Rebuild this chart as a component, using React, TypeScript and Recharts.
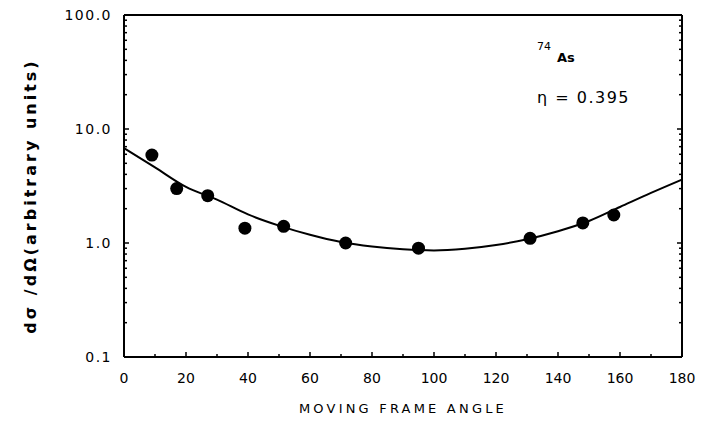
import {
  ComposedChart,
  Line,
  Scatter,
  XAxis,
  YAxis,
  Customized,
} from "recharts";

// measured cross sections vs. moving frame angle
const ANGLES = [9, 17, 27, 39, 51.5, 71.5, 95, 131, 148, 158];
const CROSS_SECTION = [5.9, 3.0, 2.6, 1.35, 1.4, 1.0, 0.9, 1.1, 1.5, 1.76];

// fitted curve
const FIT_ANGLES = [0, 10, 20, 30, 40, 50, 60, 70, 80, 90, 100, 110, 120, 130, 140, 150, 160, 170, 180];
const FIT_VALUES = [6.8, 4.6, 3.1, 2.4, 1.78, 1.42, 1.18, 1.02, 0.93, 0.88, 0.86, 0.89, 0.96, 1.08, 1.27, 1.56, 2.07, 2.75, 3.6];

const X_TICKS = [0, 10, 20, 30, 40, 50, 60, 70, 80, 90, 100, 110, 120, 130, 140, 150, 160, 170, 180];
const X_LABELS = [0, 20, 40, 60, 80, 100, 120, 140, 160, 180];
const Y_TICKS = [
  0.1, 0.2, 0.3, 0.4, 0.5, 0.6, 0.7, 0.8, 0.9,
  1, 2, 3, 4, 5, 6, 7, 8, 9,
  10, 20, 30, 40, 50, 60, 70, 80, 90,
  100,
];
const Y_LABELS = [0.1, 1, 10, 100];

const FONT = "'DejaVu Sans', sans-serif";
const INK = "#000";

const points = ANGLES.map((angle, i) => ({ angle, value: CROSS_SECTION[i] }));
const fit = FIT_ANGLES.map((angle, i) => ({ angle, value: FIT_VALUES[i] }));

const BottomTick = ({ x, y, payload }: any) => {
  const major = X_LABELS.includes(payload.value);
  return (
    <g>
      <line x1={x} y1={y} x2={x} y2={y - (major ? 5 : 3)} stroke={INK} strokeWidth={1.5} />
      {major && (
        <text x={x} y={y + 26} textAnchor="middle" fontSize={14} fontFamily={FONT} fill={INK}>
          {payload.value}
        </text>
      )}
    </g>
  );
};

const TopTick = ({ x, y, payload }: any) => {
  const major = X_LABELS.includes(payload.value);
  return <line x1={x} y1={y} x2={x} y2={y + (major ? 5 : 3)} stroke={INK} strokeWidth={1.5} />;
};

const LeftTick = ({ x, y, payload }: any) => {
  const major = Y_LABELS.includes(payload.value);
  return (
    <g>
      <line x1={x} y1={y} x2={x + (major ? 5 : 3)} y2={y} stroke={INK} strokeWidth={1.5} />
      {major && (
        <text
          x={x - 12}
          y={y + 5}
          textAnchor="end"
          fontSize={14}
          letterSpacing={1.5}
          fontFamily={FONT}
          fill={INK}
        >
          {payload.value.toFixed(1)}
        </text>
      )}
    </g>
  );
};

const RightTick = ({ x, y, payload }: any) => {
  const major = Y_LABELS.includes(payload.value);
  return <line x1={x} y1={y} x2={x - (major ? 5 : 3)} y2={y} stroke={INK} strokeWidth={1.5} />;
};

const yTitle = () => (
  <text
    x={30}
    y={196}
    transform="rotate(-90 30 196)"
    textAnchor="middle"
    dominantBaseline="central"
    fontSize={16}
    fontWeight="bold"
    letterSpacing={3}
    fontFamily={FONT}
    fill={INK}
  >
    dσ /dΩ(arbitrary units)
  </text>
);

const xTitle = () => (
  <text
    x={403}
    y={413}
    textAnchor="middle"
    fontSize={13}
    letterSpacing={3.2}
    fontFamily={FONT}
    fill={INK}
  >
    MOVING FRAME ANGLE
  </text>
);

const Annotation = () => (
  <g fontFamily={FONT} fill={INK}>
    <text x={537} y={50} fontSize={11}>74</text>
    <text x={557} y={62} fontSize={13} fontWeight="bold">As</text>
    <text x={537} y={103} fontSize={16} letterSpacing={1.5}>η = 0.395</text>
  </g>
);

export default function App() {
  return (
    <div style={{ position: "absolute", left: 0, top: 0, background: "#fff" }}>
      <ComposedChart width={708} height={424} margin={{ top: 0, right: 0, bottom: 0, left: 0 }}>
        <XAxis
          dataKey="angle"
          type="number"
          domain={[0, 180]}
          ticks={X_TICKS}
          interval={0}
          height={67}
          tickSize={0}
          tickMargin={0}
          tick={<BottomTick />}
          axisLine={{ stroke: INK, strokeWidth: 2 }}
          label={xTitle}
        />
        <XAxis
          xAxisId="top"
          orientation="top"
          type="number"
          domain={[0, 180]}
          ticks={X_TICKS}
          interval={0}
          height={15}
          tickSize={0}
          tickMargin={0}
          tick={<TopTick />}
          axisLine={{ stroke: INK, strokeWidth: 2 }}
        />
        <YAxis
          dataKey="value"
          scale="log"
          domain={[0.1, 100]}
          allowDataOverflow
          ticks={Y_TICKS}
          interval={0}
          width={124}
          tickSize={0}
          tickMargin={0}
          tick={<LeftTick />}
          axisLine={{ stroke: INK, strokeWidth: 2 }}
          label={yTitle}
        />
        <YAxis
          yAxisId="right"
          orientation="right"
          scale="log"
          domain={[0.1, 100]}
          allowDataOverflow
          ticks={Y_TICKS}
          interval={0}
          width={26}
          tickSize={0}
          tickMargin={0}
          tick={<RightTick />}
          axisLine={{ stroke: INK, strokeWidth: 2 }}
        />
        <Line
          data={fit}
          dataKey="value"
          type="monotone"
          stroke={INK}
          strokeWidth={2}
          dot={false}
          isAnimationActive={false}
        />
        <Scatter
          data={points}
          dataKey="value"
          fill={INK}
          shape={(p: any) => <circle cx={p.cx} cy={p.cy} r={6.5} fill={INK} />}
          isAnimationActive={false}
        />
        <Customized component={Annotation} />
      </ComposedChart>
    </div>
  );
}
